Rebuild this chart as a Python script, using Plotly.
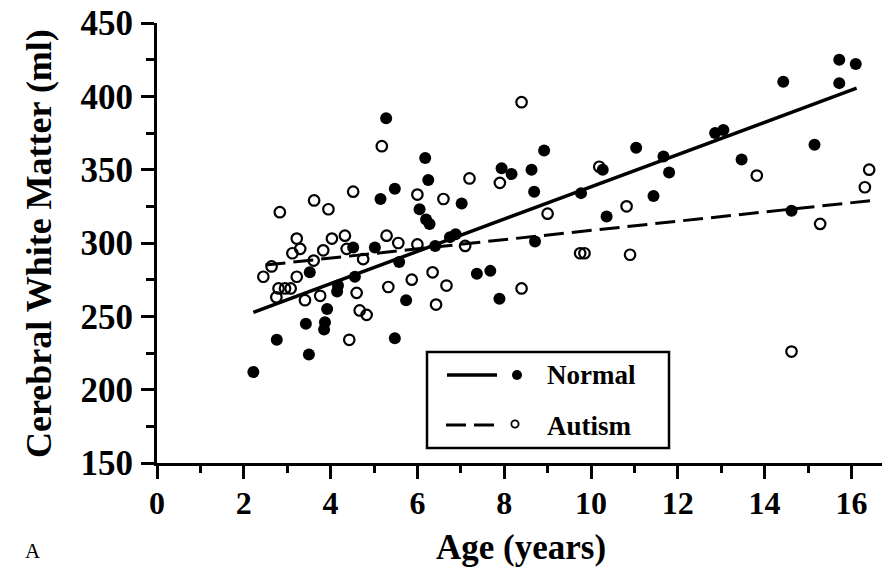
import plotly.graph_objects as go

# ---------------- data ----------------
normal_age = [2.22, 2.76, 3.43, 3.50, 3.52, 3.85, 3.87, 3.92, 4.15, 4.17,
              4.52, 4.56, 5.02, 5.15, 5.28, 5.48, 5.48, 5.58, 5.74, 6.05,
              6.18, 6.20, 6.25, 6.28, 6.41, 6.75, 6.88, 7.02, 7.37, 7.68,
              7.89, 7.94, 8.17, 8.63, 8.69, 8.71, 8.92, 9.77, 10.27, 10.36,
              11.04, 11.44, 11.67, 11.80, 12.86, 13.05, 13.47, 14.43, 14.62, 15.15,
              15.72, 15.72, 16.10]
normal_wm = [212, 234, 245, 224, 280, 241, 246, 255, 267, 271,
             297, 277, 297, 330, 385, 337, 235, 287, 261, 323,
             358, 316, 343, 313, 298, 304, 306, 327, 279, 281,
             262, 351, 347, 350, 335, 301, 363, 334, 350, 318,
             365, 332, 359, 348, 375, 377, 357, 410, 322, 367,
             425, 409, 422]

autism_age = [2.45, 2.64, 2.75, 2.80, 2.83, 2.95, 3.08, 3.12, 3.22, 3.22,
              3.30, 3.41, 3.61, 3.62, 3.76, 3.83, 3.95, 4.03, 4.33, 4.37,
              4.43, 4.52, 4.60, 4.67, 4.75, 4.83, 5.18, 5.29, 5.33, 5.56,
              5.87, 6.00, 6.00, 6.35, 6.43, 6.60, 6.67, 7.10, 7.20, 7.90,
              8.40, 8.40, 9.00, 9.75, 9.85, 10.19, 10.82, 10.90, 13.82, 14.62,
              15.28, 16.31, 16.41]
autism_wm = [277, 284, 263, 269, 321, 269, 269, 293, 303, 277,
             296, 261, 288, 329, 264, 295, 323, 303, 305, 296,
             234, 335, 266, 254, 289, 251, 366, 305, 270, 300,
             275, 333, 299, 280, 258, 330, 271, 298, 344, 341,
             396, 269, 320, 293, 293, 352, 325, 292, 346, 226,
             313, 338, 350]

# regression line end points
normal_fit_age = [2.22, 16.12]
normal_fit_wm = [252.7, 405.6]
autism_fit_age = [2.50, 16.43]
autism_fit_wm = [285.0, 328.8]

x_ticks = [0, 2, 4, 6, 8, 10, 12, 14, 16]
y_ticks = [150, 200, 250, 300, 350, 400, 450]

# ---------------- layout geometry ----------------
W, H = 882, 568
ML, MR, MT, MB = 157, 0, 23, 105
PW, PH = W - ML - MR, H - MT - MB
X_MAX = PW / 43.4
FONT = "Liberation Serif"


def px(xp):
    return (xp - ML) / PW


def py(yp):
    return (H - MB - yp) / PH


fig = go.Figure()

fig.add_trace(go.Scatter(x=normal_fit_age, y=normal_fit_wm, mode="lines",
                         line=dict(color="black", width=3.5), showlegend=False,
                         hoverinfo="skip"))
fig.add_trace(go.Scatter(x=autism_fit_age, y=autism_fit_wm, mode="lines",
                         line=dict(color="black", width=3, dash="20px,8px"),
                         showlegend=False, hoverinfo="skip"))
fig.add_trace(go.Scatter(x=autism_age, y=autism_wm, mode="markers", name="Autism",
                         marker=dict(symbol="circle-open", size=10.5, color="black",
                                     line=dict(width=2.2, color="black")),
                         showlegend=False))
fig.add_trace(go.Scatter(x=normal_age, y=normal_wm, mode="markers", name="Normal",
                         marker=dict(symbol="circle", size=12, color="black"),
                         showlegend=False))

axis_common = dict(showline=True, linecolor="black", linewidth=3, ticks="outside",
                   tickcolor="black", showgrid=False, zeroline=False)

fig.update_xaxes(**axis_common, range=[0, X_MAX], tickmode="array", tickvals=x_ticks,
                 ticktext=[f"<b>{v}</b>" for v in x_ticks],
                 tickfont=dict(family=FONT, size=32, color="black"),
                 ticklen=13, tickwidth=3, ticklabelstandoff=-3,
                 minor=dict(dtick=1, tick0=0, ticklen=7, tickwidth=2.5,
                            ticks="outside", tickcolor="black", showgrid=False))
fig.update_yaxes(**axis_common, range=[150, 450], tickmode="array", tickvals=y_ticks,
                 ticktext=[f"<b>{v}</b>" for v in y_ticks],
                 tickfont=dict(family=FONT, size=35, color="black"),
                 ticklen=13, tickwidth=3, ticklabelstandoff=1,
                 minor=dict(dtick=25, tick0=150, ticklen=8, tickwidth=2.5,
                            ticks="outside", tickcolor="black", showgrid=False))

annotations = [
    dict(text="<b>Age (years)</b>", x=px(521), y=py(547), xref="paper", yref="paper",
         showarrow=False, font=dict(family=FONT, size=35, color="black"),
         xanchor="center", yanchor="middle"),
    dict(text="<b>Cerebral White Matter (ml)</b>", x=px(39), y=py(244),
         xref="paper", yref="paper", textangle=-90, showarrow=False,
         font=dict(family=FONT, size=36, color="black"),
         xanchor="center", yanchor="middle"),
    dict(text="A", x=px(33), y=py(551), xref="paper", yref="paper",
         showarrow=False, font=dict(family=FONT, size=21, color="black"),
         xanchor="center", yanchor="middle"),
    dict(text="<b>Normal</b>", x=px(545), y=py(375), xref="paper", yref="paper",
         showarrow=False, font=dict(family=FONT, size=27, color="black"),
         xanchor="left", yanchor="middle"),
    dict(text="<b>Autism</b>", x=px(545), y=py(426), xref="paper", yref="paper",
         showarrow=False, font=dict(family=FONT, size=27, color="black"),
         xanchor="left", yanchor="middle"),
]

shapes = [
    # legend box
    dict(type="rect", xref="paper", yref="paper", x0=px(427), x1=px(669),
         y0=py(448), y1=py(352), line=dict(color="black", width=2.5),
         fillcolor="white", layer="above"),
    # legend lines
    dict(type="line", xref="paper", yref="paper", x0=px(447), x1=px(497),
         y0=py(375), y1=py(375), line=dict(color="black", width=3.5), layer="above"),
    dict(type="line", xref="paper", yref="paper", x0=px(446), x1=px(497),
         y0=py(425), y1=py(425), line=dict(color="black", width=3, dash="20px,8px"),
         layer="above"),
    # legend markers
    dict(type="circle", xref="paper", yref="paper", xsizemode="pixel",
         ysizemode="pixel", xanchor=px(517), yanchor=py(375),
         x0=-5, x1=5, y0=-5, y1=5, fillcolor="black",
         line=dict(color="black", width=0), layer="above"),
    dict(type="circle", xref="paper", yref="paper", xsizemode="pixel",
         ysizemode="pixel", xanchor=px(515), yanchor=py(424),
         x0=-3.6, x1=3.6, y0=-3.6, y1=3.6, fillcolor="rgba(0,0,0,0)",
         line=dict(color="black", width=1.8), layer="above"),
]

fig.update_layout(width=W, height=H, margin=dict(l=ML, r=MR, t=MT, b=MB),
                  paper_bgcolor="white", plot_bgcolor="white",
                  annotations=annotations, shapes=shapes, showlegend=False)

fig.write_html("out.html")
